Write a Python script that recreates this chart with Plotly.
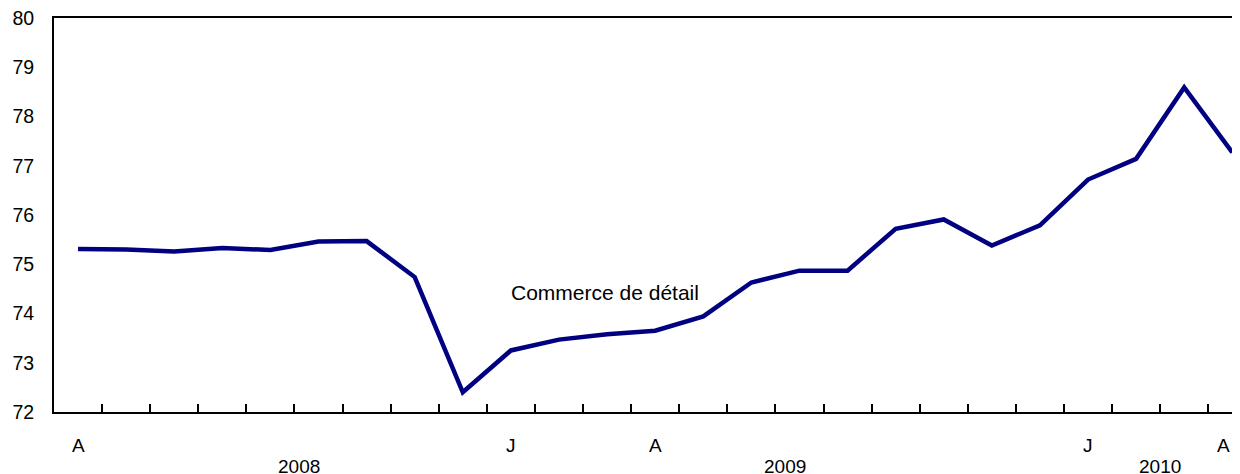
import plotly.graph_objects as go

# Monthly values, April 2008 to April 2010
months = ["2008-04", "2008-05", "2008-06", "2008-07", "2008-08", "2008-09", "2008-10",
          "2008-11", "2008-12", "2009-01", "2009-02", "2009-03", "2009-04", "2009-05",
          "2009-06", "2009-07", "2009-08", "2009-09", "2009-10", "2009-11", "2009-12",
          "2010-01", "2010-02", "2010-03", "2010-04"]
values = [75.31, 75.30, 75.26, 75.33, 75.29, 75.46, 75.47, 74.74, 72.40, 73.25,
          73.47, 73.58, 73.65, 73.94, 74.63, 74.87, 74.87, 75.72, 75.91, 75.38,
          75.79, 76.72, 77.14, 78.59, 77.27]
month_labels = {0: "A", 9: "J", 12: "A", 21: "J", 24: "A"}
year_labels = {"2008": 4.6, "2009": 14.7, "2010": 22.5}
y_ticks = [72, 73, 74, 75, 76, 77, 78, 79, 80]
series_name = "Commerce de détail"

FONT = "Liberation Sans, Arial, sans-serif"
x = list(range(len(months)))

fig = go.Figure()
fig.add_trace(go.Scatter(x=x, y=values, mode="lines",
                         line=dict(color="#000080", width=4.5),
                         name=series_name, showlegend=False, hoverinfo="skip"))

annotations = []
last = max(month_labels)
for i, lab in month_labels.items():
    ann = dict(x=i, y=0, xref="x", yref="paper", text=lab, showarrow=False,
               yanchor="middle", yshift=-33,
               font=dict(family=FONT, size=19, color="black"))
    if i == last:
        ann.update(xanchor="right", xshift=0)
    annotations.append(ann)
for lab, pos in year_labels.items():
    annotations.append(dict(x=pos, y=0, xref="x", yref="paper", text=lab, showarrow=False,
                            yanchor="middle", yshift=-54,
                            font=dict(family=FONT, size=19, color="black")))
annotations.append(dict(x=10.95, y=74.42, xref="x", yref="y", text=series_name,
                        showarrow=False, font=dict(family=FONT, size=21, color="black")))

# The page body has an 8px margin, so the figure is sized and offset to compensate
fig.update_layout(
    width=1232, height=466,
    margin=dict(l=46, r=0, t=10, b=62),
    paper_bgcolor="white", plot_bgcolor="white",
    font=dict(family=FONT, size=19, color="black"),
    annotations=annotations,
    showlegend=False,
)
fig.update_xaxes(range=[-0.5, 24.16], showgrid=False, zeroline=False,
                 showline=True, linecolor="black", linewidth=2, mirror=True,
                 tickvals=[k + 0.5 for k in range(24)], ticks="inside", ticklen=8,
                 tickwidth=2, tickcolor="black", showticklabels=False)
fig.update_yaxes(range=[72, 80], showgrid=False, zeroline=False,
                 showline=True, linecolor="black", linewidth=2,
                 tickvals=y_ticks, ticks="", ticklabelstandoff=14,
                 ticklabeloverflow="allow",
                 tickfont=dict(family=FONT, size=19.5, color="black"))

fig.write_html("out.html")
